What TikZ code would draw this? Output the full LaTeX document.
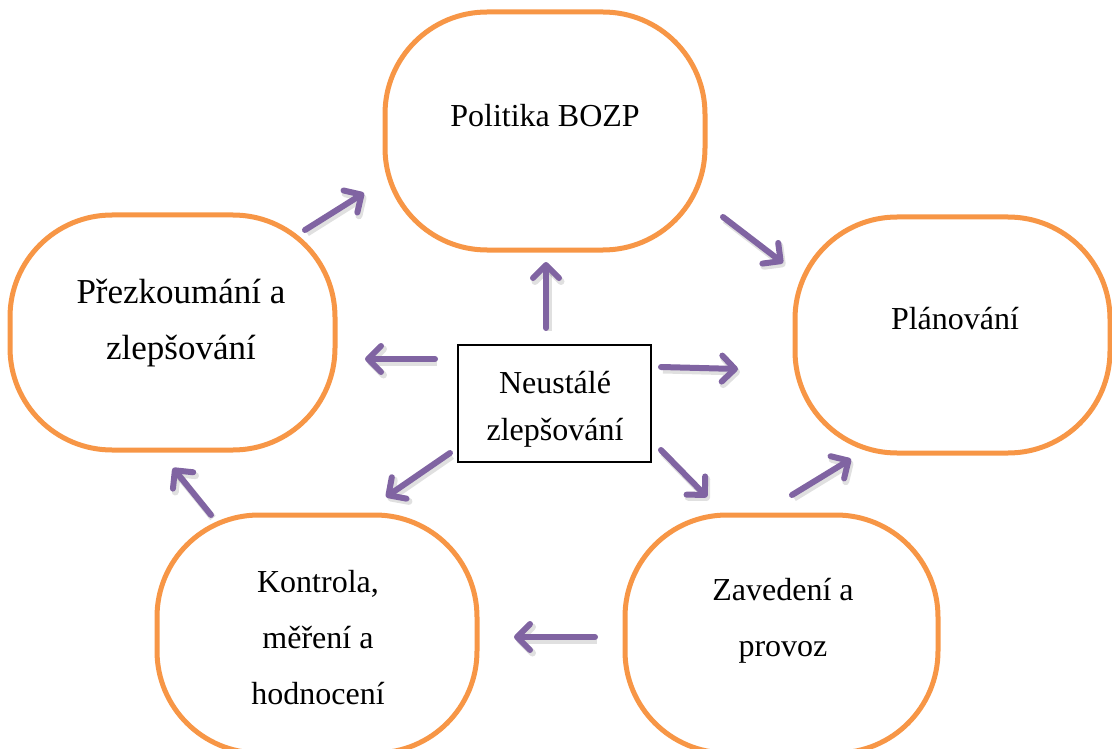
\documentclass[tikz,border=0pt]{standalone}
\usepackage{fontspec}
\setmainfont{Liberation Serif}
\usetikzlibrary{arrows.meta}
\definecolor{boxorange}{HTML}{F79646}
\definecolor{arrowpurple}{HTML}{8064A2}
\tikzset{
  phase/.style={draw=boxorange, line width=5pt, rounded corners=102pt, fill=white, inner sep=0pt},
  lbl/.style={inner sep=0pt, align=center, font=\fontsize{32}{56}\selectfont},
  biglbl/.style={inner sep=0pt, align=center, font=\fontsize{35}{56}\selectfont},
  centerbox/.style={draw=black, line width=1.2pt, fill=white, inner sep=0pt, minimum width=193pt, minimum height=117pt},
  clbl/.style={inner sep=0pt, align=center, font=\fontsize{32}{47}\selectfont},
  flow/.style={draw=arrowpurple, line width=6pt, line cap=round,
    -{Straight Barb[length=13pt, width=26pt, line cap=round, line join=round]},
    preaction={draw=black, opacity=0.12, line width=7pt, transform canvas={shift={(2pt,-3pt)}}}}
}
\begin{document}
\begin{tikzpicture}[x=1pt, y=-1pt]
\useasboundingbox (0,0) rectangle (1112,749);
\clip (0,0) rectangle (1112,749);

% phase boxes
\node[phase, minimum width=320pt, minimum height=238pt] (T) at (545,131) {};
\node[phase, minimum width=315pt, minimum height=236pt] (R) at (952.5,335) {};
\node[phase, minimum width=325pt, minimum height=235pt] (L) at (172.5,332.5) {};
\node[phase, minimum width=320pt, minimum height=238pt] (K) at (317,634) {};
\node[phase, minimum width=313pt, minimum height=238pt] (Z) at (781.5,634) {};

% labels
\node[lbl, anchor=north] (tT) at (545,86.8) {\strut Politika BOZP};
\node[lbl, anchor=north] (tR) at (955,289.8) {\strut Plánování};
\node[biglbl, anchor=north] (tL) at (181,263.8) {\strut Přezkoumání a\\\strut zlepšování};
\node[lbl, anchor=north] (tK) at (318,552.8) {\strut Kontrola,\\\strut měření a\\\strut hodnocení};
\node[lbl, anchor=north] (tZ) at (783,560.8) {\strut Zavedení a\\\strut provoz};

% center box
\node[centerbox] (C) at (554.5,403.5) {};
\node[clbl, anchor=north] (tC) at (555,360.1) {\strut Neustálé\\\strut zlepšování};

% arrow end points
\coordinate (a1s) at (305,230); \coordinate (a1e) at (364,193);
\coordinate (a2s) at (723,217); \coordinate (a2e) at (783,263);
\coordinate (a3s) at (546,328); \coordinate (a3e) at (546,262);
\coordinate (a4s) at (661,367); \coordinate (a4e) at (738,369);
\coordinate (a5s) at (435,359); \coordinate (a5e) at (365,359);
\coordinate (a6s) at (661,450); \coordinate (a6e) at (707,497);
\coordinate (a7s) at (450,453); \coordinate (a7e) at (386,497);
\coordinate (a8s) at (792,495); \coordinate (a8e) at (851,459);
\coordinate (a9s) at (595,637); \coordinate (a9e) at (514,637);
\coordinate (a10s) at (211,515); \coordinate (a10e) at (173,468);

\draw[flow] (a1s) -- (a1e);
\draw[flow] (a2s) -- (a2e);
\draw[flow] (a3s) -- (a3e);
\draw[flow] (a4s) -- (a4e);
\draw[flow] (a5s) -- (a5e);
\draw[flow] (a6s) -- (a6e);
\draw[flow] (a7s) -- (a7e);
\draw[flow] (a8s) -- (a8e);
\draw[flow] (a9s) -- (a9e);
\draw[flow] (a10s) -- (a10e);
\end{tikzpicture}
\end{document}
